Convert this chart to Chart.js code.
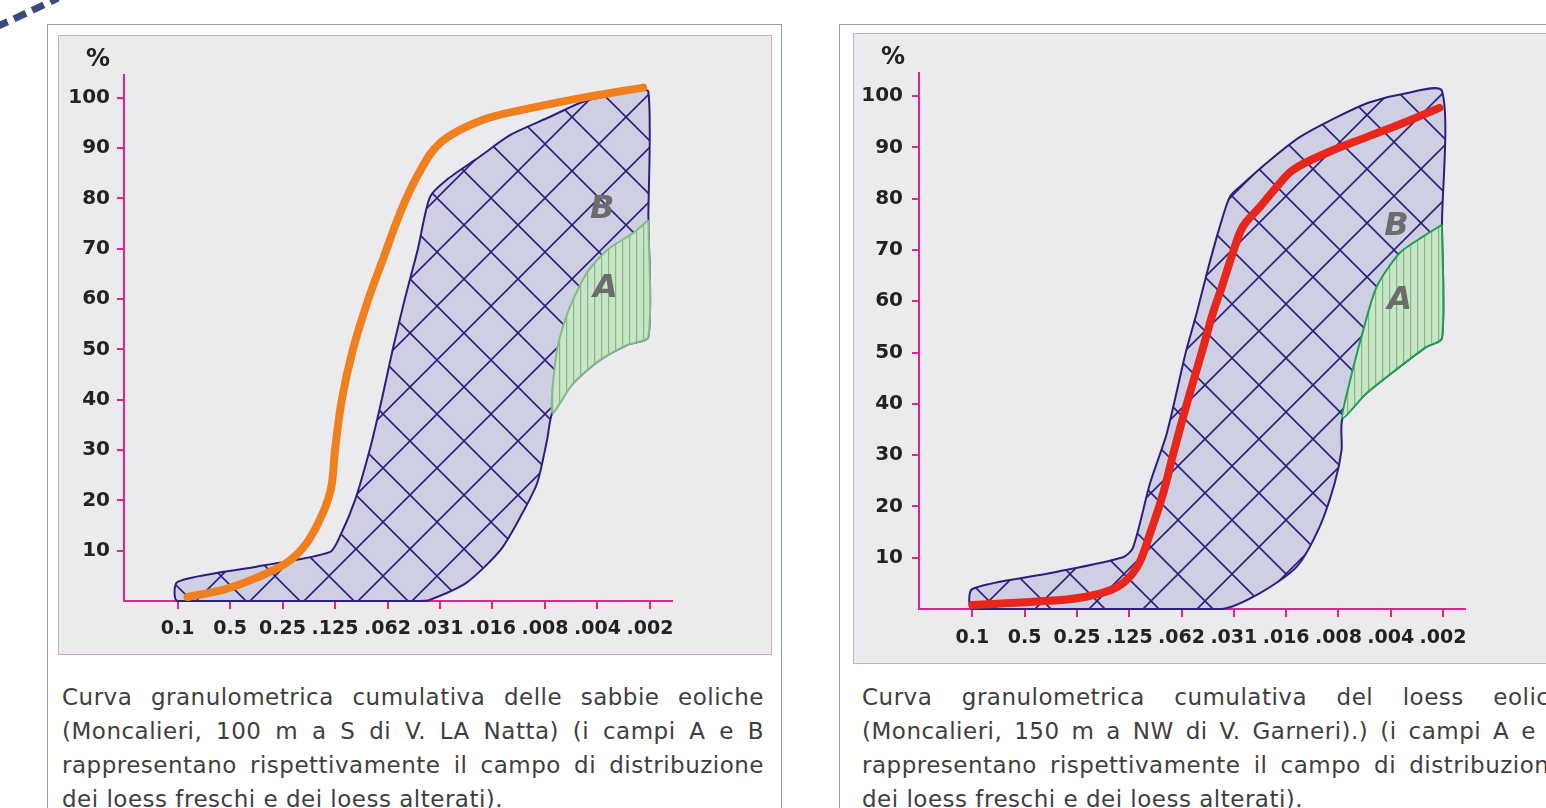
<!DOCTYPE html>
<html>
<head>
<meta charset="utf-8">
<script src="https://cdn.jsdelivr.net/npm/chart.js@4.4.1/dist/chart.umd.min.js"></script>
<style>
  html, body { margin: 0; padding: 0; width: 1546px; height: 808px; overflow: hidden; background: #fff; font-family: "DejaVu Sans", sans-serif; }
  .panel { position: absolute; top: 24px; width: 733px; height: 830px; border: 1.5px solid #9c9c9c; background: #fff; }
  .inner { position: absolute; border: 1px solid #cfa9c9; background: #ebebee; }
  canvas { position: absolute; }
  .caption { position: absolute; top: 680px; width: 702px; font-size: 23px; line-height: 34px; color: #3e3e3e; letter-spacing: 0.5px; }
  .caption div { text-align: justify; text-align-last: justify; }
  .caption div.last { text-align-last: left; }
  .deco { position: absolute; left: 0; top: 0; }
</style>
</head>
<body>
<svg class="deco" width="70" height="40"><path d="M -4 27 Q 25 14 58 -2" stroke="#3b4a7c" stroke-width="7" fill="none" stroke-dasharray="13 7"/></svg>

<div class="panel" style="left:47px"></div>
<div class="inner" style="left:58px; top:35px; width:712px; height:618px"></div>
<canvas id="chartSand" width="712" height="618" style="left:59px; top:36px"></canvas>
<div class="caption" style="left:62px">
  <div>Curva granulometrica cumulativa delle sabbie eoliche</div>
  <div>(Moncalieri, 100 m a S di V. LA Natta) (i campi A e B</div>
  <div>rappresentano rispettivamente il campo di distribuzione</div>
  <div class="last">dei loess freschi e dei loess alterati).</div>
</div>

<div class="panel" style="left:839px"></div>
<div class="inner" style="left:853px; top:33px; width:712px; height:629px"></div>
<canvas id="chartLoess" width="712" height="629" style="left:854px; top:34px"></canvas>
<div class="caption" style="left:862px">
  <div>Curva granulometrica cumulativa del loess eolico</div>
  <div>(Moncalieri, 150 m a NW di V. Garneri).) (i campi A e B</div>
  <div>rappresentano rispettivamente il campo di distribuzione</div>
  <div class="last">dei loess freschi e dei loess alterati).</div>
</div>

<script>
// grain size classes (mm), one per x position 0..9
const sizeLabels = ['0.1', '0.5', '0.25', '.125', '.062', '.031', '.016', '.008', '.004', '.002']
const percentTicks = [10, 20, 30, 40, 50, 60, 70, 80, 90, 100]

// --- left chart: sabbie eoliche ---
// field B (loess alterati), closed outline as [class position, %]
const sandFieldB = [
  [2.5, 0], [0, 0], [0, 3.8], [1.5, 6.8], [2.9, 9.7], [3.1, 13], [3.38, 20], [3.66, 30],
  [3.89, 40], [4.1, 50], [4.33, 60], [4.58, 70], [4.81, 80.3], [5.13, 83.7], [5.76, 88.3], [6.34, 92.6],
  [7.1, 96.2], [7.73, 99.2], [8.68, 101.2], [8.97, 101.2], [8.97, 76], [8.97, 52.5], [8.57, 50.9],
  [8.05, 47.9], [7.54, 43.3], [7.14, 37.4], [7.04, 32], [6.85, 23.4], [6.53, 16.7], [6.15, 10.1],
  [5.5, 3.6], [4.8, 0.2], [4.6, 0], [2.5, 0]
]
// field A (loess freschi)
const sandFieldA = [
  [8.97, 75.7], [8.68, 73.1], [8.19, 69.8], [7.8, 65.2], [7.45, 57.8], [7.23, 49.9], [7.14, 37.4],
  [7.54, 43.3], [8.05, 47.9], [8.57, 50.9], [8.97, 52.5], [8.97, 75.7]
]
// cumulative curve of the sample
const sandCurve = [
  [0.19, 0.8], [0.86, 2.2], [1.5, 4.6], [2.08, 7.6], [2.46, 11.5], [2.77, 17.5], [2.93, 22.7],
  [3.0, 30], [3.13, 40], [3.34, 49.9], [3.63, 59.8], [3.91, 67.8], [4.24, 77.1], [4.56, 84.3],
  [5.0, 91], [5.82, 95.6], [6.77, 98], [7.73, 100], [8.87, 102]
]
const sandLabels = [['B', 8.09, 77.7], ['A', 8.15, 62]]

// --- right chart: loess eolico ---
const loessFieldB = [
  [2.5, 0], [0, 0], [0, 3.9], [1.5, 7], [2.88, 10.1], [3.07, 11.9], [3.4, 24.6], [3.72, 34.3],
  [4.08, 50], [4.29, 57.7], [4.5, 66.1], [4.73, 74.5], [4.92, 80.3], [5.11, 82.3], [5.69, 87.5],
  [6.26, 92], [6.97, 95.9], [7.6, 98.8], [8.23, 100.4], [8.98, 101], [8.98, 75], [8.98, 52.8],
  [8.68, 51.1], [8.17, 47.2], [7.54, 42.1], [7.08, 37.2], [7.06, 31], [6.93, 24.6], [6.64, 16],
  [6.2, 8.2], [5.5, 3.1], [4.77, 0], [2.5, 0]
]
const loessFieldA = [
  [8.98, 74.9], [8.6, 72.5], [8.17, 69.4], [7.73, 62.8], [7.46, 53.8], [7.21, 44], [7.08, 37.2],
  [7.54, 42.1], [8.17, 47.2], [8.68, 51.1], [8.98, 52.8], [8.98, 74.9]
]
const loessCurve = [
  [0, 0.8], [1.17, 1.4], [2.12, 2.3], [2.77, 4.3], [3.15, 8.2], [3.4, 14.8], [3.65, 22.6],
  [3.86, 31], [4.12, 40.7], [4.4, 50.5], [4.6, 57.7], [4.77, 62.8], [4.98, 69.4], [5.17, 74.5],
  [5.5, 78.4], [5.82, 82.3], [6.13, 85.6], [6.77, 88.9], [7.54, 92], [8.23, 94.7], [8.93, 97.7]
]
const loessLabels = [['B', 8.11, 74.5], ['A', 8.17, 60.2]]

const AXIS_PINK = '#e0248a'
const NAVY = '#2d1f7e'
Chart.defaults.font.family = '"DejaVu Sans", sans-serif'

// crosshatch for field B
function crossHatch() {
  const s = 54
  const c = document.createElement('canvas')
  c.width = s; c.height = s
  const g = c.getContext('2d')
  g.fillStyle = '#cfcfe3'
  g.fillRect(0, 0, s, s)
  g.strokeStyle = NAVY
  g.lineWidth = 1.6
  for (const o of [-s, 0, s]) {
    g.beginPath(); g.moveTo(o, 0); g.lineTo(o + s, s); g.stroke()
    g.beginPath(); g.moveTo(o + s, 0); g.lineTo(o, s); g.stroke()
  }
  return g.createPattern(c, 'repeat')
}

// vertical lines for field A
function verticalHatch() {
  const c = document.createElement('canvas')
  c.width = 7; c.height = 7
  const g = c.getContext('2d')
  g.fillStyle = '#c5e7c8'
  g.fillRect(0, 0, 7, 7)
  g.fillStyle = '#93b083'
  g.fillRect(3, 0, 1.2, 7)
  return g.createPattern(c, 'repeat')
}

const fieldLabels = {
  id: 'fieldLabels',
  afterDatasetsDraw(chart, args, opts) {
    const { ctx, chartArea, scales: { x, y } } = chart
    ctx.save()
    ctx.textAlign = 'center'
    ctx.textBaseline = 'middle'
    ctx.font = 'italic bold 32px "DejaVu Sans"'
    ctx.fillStyle = '#6c6c6c'
    opts.labels.forEach(([t, vx, vy]) => ctx.fillText(t, x.getPixelForValue(vx), y.getPixelForValue(vy)))
    ctx.font = 'bold 24px "DejaVu Sans"'
    ctx.fillStyle = '#222'
    ctx.fillText('%', chartArea.left - 26, chartArea.top - 15)
    ctx.restore()
  }
}

const toXY = pts => pts.map(([x, y]) => ({ x, y }))

function makeChart(id, cfg) {
  return new Chart(document.getElementById(id), {
    type: 'line',
    data: {
      datasets: [
        {
          data: toXY(cfg.curve), borderColor: cfg.curveColor, borderWidth: 8,
          borderCapStyle: 'round', tension: 0.35, pointRadius: 0, fill: false, order: 0, clip: 6
        },
        {
          data: toXY(cfg.fieldA), borderColor: cfg.aBorder, borderWidth: 2,
          backgroundColor: verticalHatch(), fill: 'shape', tension: 0.25, pointRadius: 0, order: 1, clip: 4
        },
        {
          data: toXY(cfg.fieldB), borderColor: NAVY, borderWidth: 2,
          backgroundColor: crossHatch(), fill: 'shape', tension: 0.25, pointRadius: 0, order: 2, clip: 4
        }
      ]
    },
    options: {
      responsive: false,
      animation: false,
      events: [],
      layout: { padding: { top: cfg.padTop, right: cfg.padRight, left: 0, bottom: 0 } },
      plugins: {
        legend: { display: false },
        tooltip: { enabled: false },
        fieldLabels: { labels: cfg.labels }
      },
      scales: {
        x: {
          type: 'linear', min: -1.02, max: 9.42,
          afterBuildTicks: s => { s.ticks = sizeLabels.map((_, i) => ({ value: i })) },
          afterFit: s => { s.height = cfg.xHeight },
          ticks: {
            callback: v => sizeLabels[v], autoSkip: false, maxRotation: 0,
            color: '#222', padding: cfg.xPad, font: { size: 19, weight: 'bold' }
          },
          grid: { drawOnChartArea: false, drawTicks: true, tickLength: 8, color: AXIS_PINK, lineWidth: 2 },
          border: { color: AXIS_PINK, width: 2 }
        },
        y: {
          min: 0, max: 104.5,
          afterBuildTicks: s => { s.ticks = percentTicks.map(v => ({ value: v })) },
          afterFit: s => { s.width = cfg.yWidth },
          ticks: { color: '#222', padding: cfg.yPad, font: { size: 20, weight: 'bold' } },
          grid: { drawOnChartArea: false, drawTicks: true, tickLength: 7, color: AXIS_PINK, lineWidth: 2 },
          border: { color: AXIS_PINK, width: 2 }
        }
      }
    },
    plugins: [fieldLabels]
  })
}

makeChart('chartSand', {
  curve: sandCurve, fieldA: sandFieldA, fieldB: sandFieldB, labels: sandLabels,
  curveColor: '#f0801e', aBorder: '#86b98a',
  padTop: 39, padRight: 99, xHeight: 53, yWidth: 65, yPad: 7, xPad: 9
})

makeChart('chartLoess', {
  curve: loessCurve, fieldA: loessFieldA, fieldB: loessFieldB, labels: loessLabels,
  curveColor: '#e8261c', aBorder: '#1f9f52',
  padTop: 39, padRight: 101, xHeight: 54, yWidth: 65, yPad: 9, xPad: 10
})
</script>
</body>
</html>
